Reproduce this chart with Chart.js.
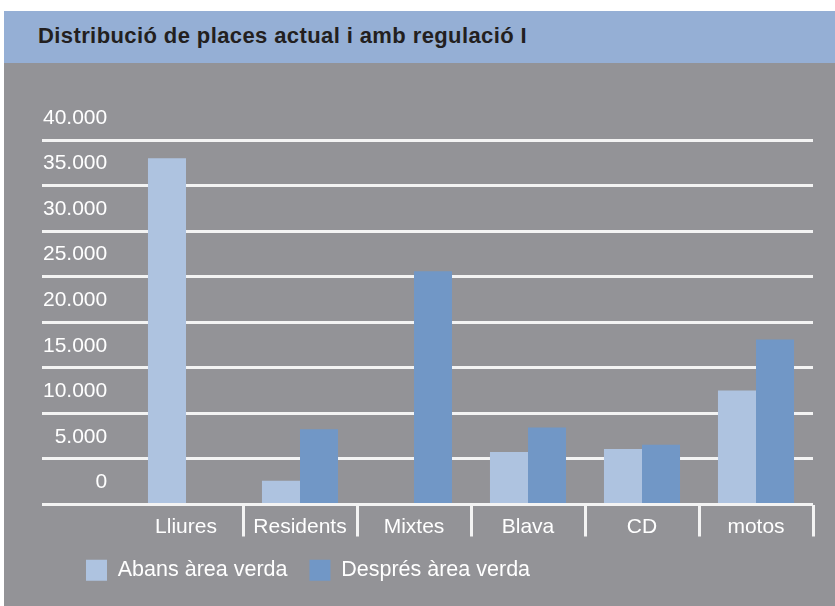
<!DOCTYPE html>
<html>
<head>
<meta charset="utf-8">
<script src="https://cdn.jsdelivr.net/npm/chart.js@4.4.0/dist/chart.umd.min.js"></script>
<style>
  body { margin: 0; background: #fff; width: 835px; height: 606px; overflow: hidden; font-family: "Liberation Sans", Arial, sans-serif; }
  .header { position: absolute; left: 4px; top: 11px; width: 831px; height: 52px; background: #95afd5; }
  .header h1 { position: absolute; left: 34px; top: 14px; margin: 0; font-size: 22px; line-height: 22px; letter-spacing: 0.4px; font-weight: bold; color: #231f20; white-space: nowrap; }
  #chart { position: absolute; left: 4px; top: 63px; background: #939397; }
</style>
</head>
<body>
<div class="header"><h1>Distribució de places actual i amb regulació I</h1></div>
<canvas id="chart" width="831" height="543"></canvas>
<script>
// valors llegits del gràfic
const categories = ["Lliures", "Residents", "Mixtes", "Blava", "CD", "motos"];
const abans = [38000, 2600, 0, 5750, 6100, 12500];
const despres = [0, 8250, 25600, 8450, 6550, 18100];
const seriesNames = ["Abans àrea verda", "Després àrea verda"];
const yMax = 40000;
const yStep = 5000;

const fontFamily = '"Liberation Sans", Arial, sans-serif';
const gridWhite = "#f3f3f3";

const formatThousands = (v) => String(v).replace(/\B(?=(\d{3})+(?!\d))/g, ".");

new Chart(document.getElementById("chart"), {
  type: "bar",
  data: {
    labels: categories,
    datasets: [
      {
        label: seriesNames[0],
        data: abans,
        backgroundColor: "#aec3e0",
        borderWidth: 0,
        categoryPercentage: 0.667,
        barPercentage: 1.0,
      },
      {
        label: seriesNames[1],
        data: despres,
        backgroundColor: "#7197c6",
        borderWidth: 0,
        categoryPercentage: 0.667,
        barPercentage: 1.0,
      },
    ],
  },
  options: {
    responsive: false,
    animation: { duration: 0 },
    layout: { padding: { left: 60, right: 22, top: 77, bottom: 15 } },
    font: { family: fontFamily },
    plugins: {
      tooltip: { enabled: false },
      title: { display: false },
      legend: {
        position: "bottom",
        align: "start",
        labels: {
          boxWidth: 21,
          boxHeight: 21,
          padding: 22,
          color: "#ffffff",
          font: { family: fontFamily, size: 21.5 },
        },
      },
    },
    scales: {
      x: {
        grid: {
          offset: true,
          drawOnChartArea: false,
          drawTicks: true,
          tickLength: 32,
          lineWidth: 3,
          color: (ctx) => (ctx.index === 0 ? "rgba(0,0,0,0)" : gridWhite),
        },
        border: { display: false },
        ticks: {
          color: "#ffffff",
          font: { family: fontFamily, size: 21 },
          padding: -22,
          maxRotation: 0,
          autoSkip: false,
        },
        afterFit: (scale) => {
          scale.height = 33;
        },
      },
      y: {
        min: 0,
        max: yMax,
        grid: {
          color: gridWhite,
          lineWidth: 3,
          drawTicks: true,
          tickLength: 87,
        },
        border: { display: false },
        ticks: {
          stepSize: yStep,
          color: "#ffffff",
          font: { family: fontFamily, size: 21 },
          mirror: true,
          crossAlign: "far",
          padding: -86,
          labelOffset: -22,
          callback: (value) => formatThousands(value),
        },
        afterFit: (scale) => {
          scale.width = 65;
        },
      },
    },
  },
});
</script>
</body>
</html>
